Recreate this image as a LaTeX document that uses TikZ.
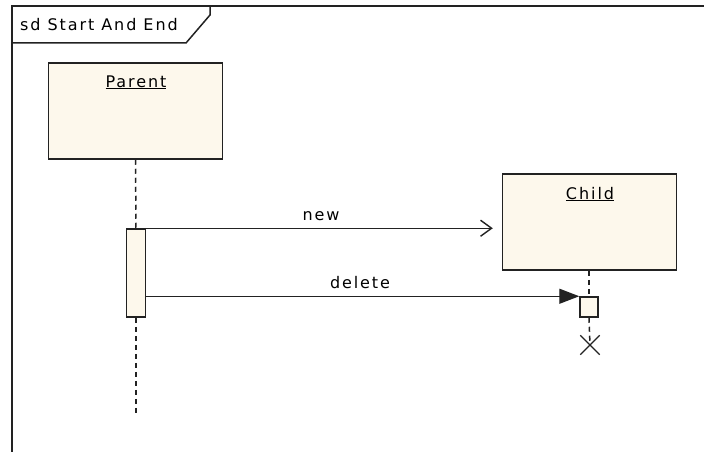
\documentclass[tikz,border=0pt]{standalone}
\usepackage{fontspec}
\setmainfont{DejaVu Sans}[LetterSpace=12]
\usetikzlibrary{arrows.meta,shapes.misc}
\definecolor{boxfill}{HTML}{FDF8EC}
\definecolor{ln}{HTML}{222222}
\begin{document}
\begin{tikzpicture}[x=1pt,y=-1pt,
  every node/.style={font=\fontsize{16}{18}\selectfont, text=black},
  obj/.style={draw=ln, fill=boxfill, line width=1.5pt, minimum width=174pt, minimum height=96pt, inner sep=0pt},
  actbox/.style={draw=ln, fill=boxfill, line width=1.5pt, minimum width=19pt, minimum height=88pt, inner sep=0pt},
  dthbox/.style={draw=ln, fill=boxfill, line width=1.5pt, minimum width=18pt, minimum height=20pt, inner sep=0pt},
  life/.style={draw=ln, line width=1.5pt, dash pattern=on 5pt off 4pt},
  msg/.style={draw=ln, line width=1.4pt},
  framestyle/.style={draw=ln, line width=1.5pt}]
\useasboundingbox (0,0) rectangle (704,452);
\fill[white] (0,0) rectangle (704,452);
% frame
\draw[framestyle] (12,452) -- (12,6) -- (704,6);
\draw[framestyle] (12,43) -- (186,43) -- (210,15) -- (210,6);
\node[anchor=base west, inner sep=0pt] (title) at (20,31) {sd Start And End};
% objects
\node[obj] (parent) at (135.5,111) {};
\node[anchor=base, inner sep=0pt] (plabel) at (136,87) {\underline{Parent}};
\node[obj] (child) at (589.5,222) {};
\node[anchor=base, inner sep=0pt] (clabel) at (590,199) {\underline{Child}};
% activation and death
\node[actbox] (act) at (136,273) {};
\node[dthbox] (dbox) at (589,307) {};
\node[cross out, draw=ln, line width=1.3pt, minimum size=18pt, inner sep=0pt] (xend) at (590,345) {};
\coordinate (pend) at (136,413);
% lifelines
\draw[life] (parent.south) -- (act.north);
\draw[life] (act.south) -- (pend);
\draw[life] (child.south -| dbox.north) -- (dbox.north);
\draw[life] (dbox.south) -- (xend.center);
% messages
\draw[msg, -{Straight Barb[length=11pt,width=16pt]}, shorten >=9pt] (act.north east) -- (act.north east -| child.west);
\node[anchor=base, inner sep=0pt] (newlbl) at (321,220) {new};
\draw[msg, -{Triangle[length=20pt,width=15pt]}] (act.east |- dbox.north west) -- (dbox.north west);
\node[anchor=base, inner sep=0pt] (dellbl) at (360,288) {delete};
\end{tikzpicture}
\end{document}
